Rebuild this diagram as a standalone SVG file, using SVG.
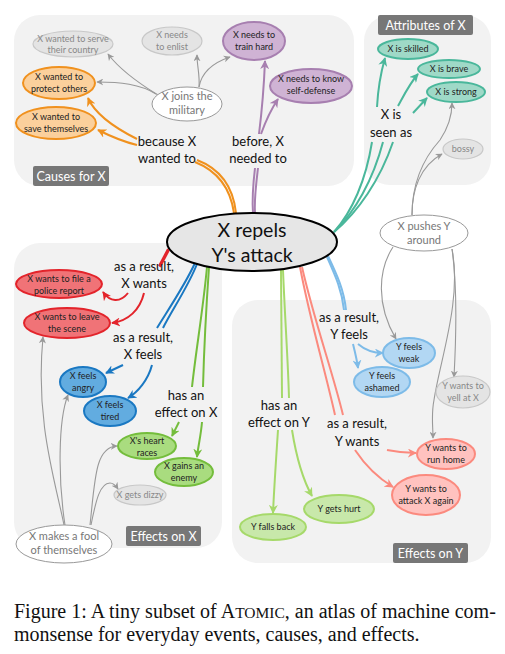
<svg xmlns="http://www.w3.org/2000/svg" width="505" height="654" viewBox="0 0 505 654">
<defs>
<style>
.panel{fill:#f2f2f2}
.ptag{fill:#777;}
.ptxt{font-family:Lato,"Open Sans",sans-serif;font-size:12.5px;fill:#fff;text-anchor:middle}
.nt{font-family:Lato,"Open Sans",sans-serif;font-size:9px;fill:#222;text-anchor:middle}
.gt{font-family:Lato,"Open Sans",sans-serif;font-size:9px;fill:#888;text-anchor:middle}
.wt{font-family:Lato,"Open Sans",sans-serif;font-size:11px;fill:#777;text-anchor:middle}
.lt{font-family:Lato,"Open Sans",sans-serif;font-size:13px;fill:#111;text-anchor:middle}
.ht{font-family:Lato,"Open Sans",sans-serif;font-size:19.5px;fill:#111;text-anchor:middle}
.cap{font-family:"Liberation Serif","Times New Roman",serif;font-size:20px;fill:#111}
.gray{fill:#e4e4e4;stroke:#c8c8c8;stroke-width:1.2}
.white{fill:#fff;stroke:#999;stroke-width:1}
.or{fill:#fbd09c;stroke:#f0911e;stroke-width:2}
.pu{fill:#cfb3d4;stroke:#a77fb0;stroke-width:2}
.te{fill:#9fd9c7;stroke:#4ab79b;stroke-width:2}
.re{fill:#f07377;stroke:#e3242b;stroke-width:2}
.bl{fill:#62ace0;stroke:#1a78c2;stroke-width:2}
.gr{fill:#a9dc7f;stroke:#74bd3c;stroke-width:2}
.lb{fill:#b2d7f3;stroke:#7dbbe8;stroke-width:2}
.sa{fill:#ffc2bf;stroke:#fb8a7e;stroke-width:2}
.lg{fill:#c8e8aa;stroke:#a6d96a;stroke-width:2}
.c{fill:none;stroke-width:2}
.cg{fill:none;stroke:#999;stroke-width:1.1}
</style>
<marker id="a-or" viewBox="0 0 10 10" refX="9" refY="5" markerWidth="9" markerHeight="9" markerUnits="userSpaceOnUse" orient="auto"><path d="M0,0 L10,5 L0,10 L3,5 z" fill="#f0911e"/></marker>
<marker id="a-pu" viewBox="0 0 10 10" refX="9" refY="5" markerWidth="9" markerHeight="9" markerUnits="userSpaceOnUse" orient="auto"><path d="M0,0 L10,5 L0,10 L3,5 z" fill="#a77fb0"/></marker>
<marker id="a-te" viewBox="0 0 10 10" refX="9" refY="5" markerWidth="9" markerHeight="9" markerUnits="userSpaceOnUse" orient="auto"><path d="M0,0 L10,5 L0,10 L3,5 z" fill="#4ab79b"/></marker>
<marker id="a-re" viewBox="0 0 10 10" refX="9" refY="5" markerWidth="9" markerHeight="9" markerUnits="userSpaceOnUse" orient="auto"><path d="M0,0 L10,5 L0,10 L3,5 z" fill="#e3242b"/></marker>
<marker id="a-bl" viewBox="0 0 10 10" refX="9" refY="5" markerWidth="9" markerHeight="9" markerUnits="userSpaceOnUse" orient="auto"><path d="M0,0 L10,5 L0,10 L3,5 z" fill="#1a78c2"/></marker>
<marker id="a-gr" viewBox="0 0 10 10" refX="9" refY="5" markerWidth="9" markerHeight="9" markerUnits="userSpaceOnUse" orient="auto"><path d="M0,0 L10,5 L0,10 L3,5 z" fill="#74bd3c"/></marker>
<marker id="a-lb" viewBox="0 0 10 10" refX="9" refY="5" markerWidth="9" markerHeight="9" markerUnits="userSpaceOnUse" orient="auto"><path d="M0,0 L10,5 L0,10 L3,5 z" fill="#7dbbe8"/></marker>
<marker id="a-sa" viewBox="0 0 10 10" refX="9" refY="5" markerWidth="9" markerHeight="9" markerUnits="userSpaceOnUse" orient="auto"><path d="M0,0 L10,5 L0,10 L3,5 z" fill="#fb8a7e"/></marker>
<marker id="a-lg" viewBox="0 0 10 10" refX="9" refY="5" markerWidth="9" markerHeight="9" markerUnits="userSpaceOnUse" orient="auto"><path d="M0,0 L10,5 L0,10 L3,5 z" fill="#a6d96a"/></marker>
<marker id="a-g" viewBox="0 0 10 10" refX="9" refY="5" markerWidth="7" markerHeight="7" markerUnits="userSpaceOnUse" orient="auto"><path d="M0,0 L10,5 L0,10 L3,5 z" fill="#999"/></marker>
</defs>
<rect width="505" height="654" fill="#fff"/>

<g id="panels">
<rect class="panel" x="14" y="15" width="340" height="171" rx="26"/>
<rect class="panel" x="364" y="15" width="127" height="170" rx="26"/>
<rect class="panel" x="14" y="243" width="208" height="305" rx="26"/>
<rect class="panel" x="232" y="300" width="259" height="263" rx="26"/>
<rect class="ptag" x="33" y="166" width="76" height="20" rx="2"/>
<text class="ptxt" x="71" y="181">Causes for X</text>
<rect class="ptag" x="378" y="15" width="95" height="20" rx="2"/>
<text class="ptxt" x="425.5" y="30">Attributes of X</text>
<rect class="ptag" x="126" y="526" width="75" height="20" rx="2"/>
<text class="ptxt" x="163.5" y="541">Effects on X</text>
<rect class="ptag" x="393" y="543" width="75" height="20" rx="2"/>
<text class="ptxt" x="430.5" y="558">Effects on Y</text>
</g>

<g id="connectors">
<!-- orange -->
<path class="c" stroke="#f0911e" d="M195,162 C215,170 230,185 234,213"/>
<path class="c" stroke="#f0911e" d="M197,160 C218,168 233,185 236,213"/>
<path class="c" stroke="#f0911e" d="M137,139 C115,128 95,114 88,98" marker-end="url(#a-or)"/>
<path class="c" stroke="#f0911e" d="M137,145 C120,141 108,135 98,130" marker-end="url(#a-or)"/>
<!-- purple -->
<path class="c" stroke="#a77fb0" d="M253,213 C252,200 253,185 255,168"/>
<path class="c" stroke="#a77fb0" d="M255,213 C254,200 256,185 258,168"/>
<path class="c" stroke="#a77fb0" d="M259,134 C262,110 264,85 265,61" marker-end="url(#a-pu)"/>
<path class="c" stroke="#a77fb0" d="M261,134 C266,120 272,108 278,99" marker-end="url(#a-pu)"/>
<!-- gray from military -->
<path class="cg" d="M158,95 C140,84 120,70 108,54" marker-end="url(#a-g)"/>
<path class="cg" d="M156,94 C140,84 120,82 97,82" marker-end="url(#a-g)"/>
<path class="cg" d="M199,87 C200,75 197,66 197,55" marker-end="url(#a-g)"/>
<path class="cg" d="M199,87 C202,70 215,62 230,57" marker-end="url(#a-g)"/>
<!-- teal -->
<path class="c" stroke="#4ab79b" d="M334,232 C352,212 366,180 372,142"/>
<path class="c" stroke="#4ab79b" d="M334,232 C355,212 373,180 383,142"/>
<path class="c" stroke="#4ab79b" d="M334,232 C358,212 380,180 393,142"/>
<path class="c" stroke="#4ab79b" d="M377,107 C378,88 381,72 385,58" marker-end="url(#a-te)"/>
<path class="c" stroke="#4ab79b" d="M398,106 C404,95 410,83 418,74" marker-end="url(#a-te)"/>
<path class="c" stroke="#4ab79b" d="M413,113 L427,98" marker-end="url(#a-te)"/>
<!-- gray from pushes -->
<path class="cg" d="M412,215 C412,190 420,166 442,154" marker-end="url(#a-g)"/>
<path class="cg" d="M412,215 C412,185 422,160 440,140 C448,128 452,116 452,103" marker-end="url(#a-g)"/>
<path class="cg" d="M393,247 C378,270 376,305 396,339" marker-end="url(#a-g)"/>
<path class="cg" d="M452,249 C458,290 456,340 454,377" marker-end="url(#a-g)"/>
<path class="cg" d="M452,249 C462,300 440,360 434,400 C431,415 433,425 433,438" marker-end="url(#a-g)"/>
<!-- red -->
<path class="c" stroke="#e3242b" d="M159,266 L168,249"/>
<path class="c" stroke="#e3242b" d="M160,267 L169,250"/>
<path class="c" stroke="#e3242b" d="M128,293 C120,303 110,302 103,292" marker-end="url(#a-re)"/>
<path class="c" stroke="#e3242b" d="M144,293 C140,310 128,321 112,323" marker-end="url(#a-re)"/>
<!-- blue -->
<path class="c" stroke="#1a78c2" d="M195,263 C185,285 168,310 157,328"/>
<path class="c" stroke="#1a78c2" d="M197,264 C188,287 172,310 163,328"/>
<path class="c" stroke="#1a78c2" d="M123,365 L106,373" marker-end="url(#a-bl)"/>
<path class="c" stroke="#1a78c2" d="M152,365 C148,380 138,392 128,398" marker-end="url(#a-bl)"/>
<!-- green -->
<path class="c" stroke="#74bd3c" d="M207,267 C203,310 196,350 192,387"/>
<path class="c" stroke="#74bd3c" d="M209,267 C206,310 204,350 203,387"/>
<path class="c" stroke="#74bd3c" d="M179,422 L172,436" marker-end="url(#a-gr)"/>
<path class="c" stroke="#74bd3c" d="M202,422 C201,435 198,447 197,457" marker-end="url(#a-gr)"/>
<!-- gray from fool -->
<path class="cg" d="M64,525 C55,480 35,420 43,337" marker-end="url(#a-g)"/>
<path class="cg" d="M65,525 C58,480 58,420 68,395" marker-end="url(#a-g)"/>
<path class="cg" d="M90,525 C95,480 95,447 117,446" marker-end="url(#a-g)"/>
<path class="cg" d="M91,525 C96,500 100,483 110,483 C114,483 116,486 118,489" marker-end="url(#a-g)"/>
<!-- light blue -->
<path class="c" stroke="#7dbbe8" d="M327,257 C335,275 342,290 344,310"/>
<path class="c" stroke="#7dbbe8" d="M328,256 C337,275 344,290 346,310"/>
<path class="c" stroke="#7dbbe8" d="M358,344 C365,350 372,353 383,353" marker-end="url(#a-lb)"/>
<path class="c" stroke="#7dbbe8" d="M353,344 C355,352 357,360 358,368" marker-end="url(#a-lb)"/>
<!-- salmon -->
<path class="c" stroke="#fb8a7e" d="M300,267 C310,320 325,370 335,415"/>
<path class="c" stroke="#fb8a7e" d="M302,267 C314,320 332,370 343,415"/>
<path class="c" stroke="#fb8a7e" d="M387,450 C397,452 405,453 416,453" marker-end="url(#a-sa)"/>
<path class="c" stroke="#fb8a7e" d="M355,450 C365,465 378,478 393,487" marker-end="url(#a-sa)"/>
<!-- light green -->
<path class="c" stroke="#a6d96a" d="M281,270 C281,320 282,360 282,398"/>
<path class="c" stroke="#a6d96a" d="M283,270 C285,320 288,360 289,398"/>
<path class="c" stroke="#a6d96a" d="M278,430 C276,460 274,490 273,513" marker-end="url(#a-lg)"/>
<path class="c" stroke="#a6d96a" d="M292,430 C296,455 303,480 312,496" marker-end="url(#a-lg)"/>
</g>

<g id="labels">
<text class="lt" x="167" y="146">because X</text>
<text class="lt" x="167" y="163">wanted to</text>
<text class="lt" x="258" y="146">before, X</text>
<text class="lt" x="258" y="163">needed to</text>
<text class="lt" x="391" y="119">X is</text>
<text class="lt" x="391" y="137">seen as</text>
<text class="lt" x="144" y="271">as a result,</text>
<text class="lt" x="144" y="288">X wants</text>
<text class="lt" x="143" y="342">as a result,</text>
<text class="lt" x="143" y="359">X feels</text>
<text class="lt" x="186" y="400">has an</text>
<text class="lt" x="186" y="417">effect on X</text>
<text class="lt" x="349" y="322">as a result,</text>
<text class="lt" x="349" y="339">Y feels</text>
<text class="lt" x="279" y="410">has an</text>
<text class="lt" x="279" y="427">effect on Y</text>
<text class="lt" x="357" y="428">as a result,</text>
<text class="lt" x="357" y="446">Y wants</text>
</g>

<g id="hub">
<ellipse cx="252" cy="242" rx="85" ry="29" fill="#e6e6e6" stroke="#000" stroke-width="2"/>
<text class="ht" x="252" y="237">X repels</text>
<text class="ht" x="252" y="262">Y's attack</text>
</g>

<g id="n-serve"><ellipse class="gray" cx="73" cy="44" rx="40" ry="13"/><text class="gt" x="73" y="42">X wanted to serve</text><text class="gt" x="73" y="53">their country</text></g>
<g id="n-enlist"><ellipse class="gray" cx="172" cy="41" rx="30" ry="14"/><text class="gt" x="172" y="38">X needs</text><text class="gt" x="172" y="50">to enlist</text></g>
<g id="n-train"><ellipse class="pu" cx="254" cy="41" rx="31" ry="19"/><text class="nt" x="254" y="38">X needs to</text><text class="nt" x="254" y="50">train hard</text></g>
<g id="n-selfdef"><ellipse class="pu" cx="311" cy="86" rx="41" ry="17"/><text class="nt" x="311" y="82">X needs to know</text><text class="nt" x="311" y="94">self-defense</text></g>
<g id="n-protect"><ellipse class="or" cx="59" cy="83" rx="36" ry="16"/><text class="nt" x="59" y="80">X wanted to</text><text class="nt" x="59" y="92">protect others</text></g>
<g id="n-save"><ellipse class="or" cx="56" cy="123" rx="40" ry="16"/><text class="nt" x="56" y="120">X wanted to</text><text class="nt" x="56" y="132">save themselves</text></g>
<g id="n-military"><ellipse class="white" cx="187" cy="104" rx="35" ry="17"/><text class="wt" x="187" y="100">X joins the</text><text class="wt" x="187" y="114">military</text></g>

<g id="n-skilled"><ellipse class="te" cx="408" cy="49" rx="30" ry="10"/><text class="nt" x="408" y="52">X is skilled</text></g>
<g id="n-brave"><ellipse class="te" cx="449" cy="69" rx="31" ry="9"/><text class="nt" x="449" y="72">X is brave</text></g>
<g id="n-strong"><ellipse class="te" cx="456" cy="92" rx="29" ry="10"/><text class="nt" x="456" y="95">X is strong</text></g>
<g id="n-bossy"><ellipse class="gray" cx="463" cy="149" rx="20" ry="10"/><text class="gt" x="463" y="152">bossy</text></g>
<g id="n-pushes"><ellipse class="white" cx="424" cy="233" rx="44" ry="18"/><text class="wt" x="424" y="230">X pushes Y</text><text class="wt" x="424" y="244">around</text></g>

<g id="n-police"><ellipse class="re" cx="59" cy="284" rx="43" ry="14"/><text class="nt" x="59" y="282">X wants to file a</text><text class="nt" x="59" y="294">police report</text></g>
<g id="n-leave"><ellipse class="re" cx="67" cy="323" rx="43" ry="15"/><text class="nt" x="67" y="320">X wants to leave</text><text class="nt" x="67" y="332">the scene</text></g>
<g id="n-angry"><ellipse class="bl" cx="83" cy="382" rx="23" ry="15"/><text class="nt" x="83" y="379">X feels</text><text class="nt" x="83" y="391">angry</text></g>
<g id="n-tired"><ellipse class="bl" cx="110" cy="411" rx="26" ry="15"/><text class="nt" x="110" y="408">X feels</text><text class="nt" x="110" y="420">tired</text></g>
<g id="n-heart"><ellipse class="gr" cx="147" cy="446" rx="29" ry="13"/><text class="nt" x="147" y="444">X's heart</text><text class="nt" x="147" y="456">races</text></g>
<g id="n-enemy"><ellipse class="gr" cx="184" cy="472" rx="29" ry="14"/><text class="nt" x="184" y="469">X gains an</text><text class="nt" x="184" y="481">enemy</text></g>
<g id="n-dizzy"><ellipse class="gray" cx="140" cy="495" rx="26" ry="10"/><text class="gt" x="140" y="498">X gets dizzy</text></g>
<g id="n-fool"><ellipse class="white" cx="64" cy="544" rx="48" ry="19"/><text class="wt" x="64" y="540">X makes a fool</text><text class="wt" x="64" y="554">of themselves</text></g>

<g id="n-weak"><ellipse class="lb" cx="409" cy="353" rx="26" ry="15"/><text class="nt" x="409" y="350">Y feels</text><text class="nt" x="409" y="362">weak</text></g>
<g id="n-ashamed"><ellipse class="lb" cx="382" cy="382" rx="28" ry="15"/><text class="nt" x="382" y="379">Y feels</text><text class="nt" x="382" y="391">ashamed</text></g>
<g id="n-yell"><ellipse class="gray" cx="463" cy="392" rx="27" ry="16"/><text class="gt" x="463" y="389">Y wants to</text><text class="gt" x="463" y="401">yell at X</text></g>
<g id="n-runhome"><ellipse class="sa" cx="446" cy="454" rx="29" ry="15"/><text class="nt" x="446" y="451">Y wants to</text><text class="nt" x="446" y="463">run home</text></g>
<g id="n-attack"><ellipse class="sa" cx="426" cy="495" rx="34" ry="20"/><text class="nt" x="426" y="492">Y wants to</text><text class="nt" x="426" y="504">attack X again</text></g>
<g id="n-hurt"><ellipse class="lg" cx="339" cy="509" rx="35" ry="14"/><text class="nt" x="339" y="512">Y gets hurt</text></g>
<g id="n-fallsback"><ellipse class="lg" cx="273" cy="527" rx="33" ry="13"/><text class="nt" x="273" y="530">Y falls back</text></g>

<g id="caption">
<text class="cap" x="14" y="618">Figure 1: A tiny subset of A<tspan font-size="15.5">TOMIC</tspan>, an atlas of machine com-</text>
<text class="cap" x="14" y="641">monsense for everyday events, causes, and effects.</text>
</g>
</svg>
